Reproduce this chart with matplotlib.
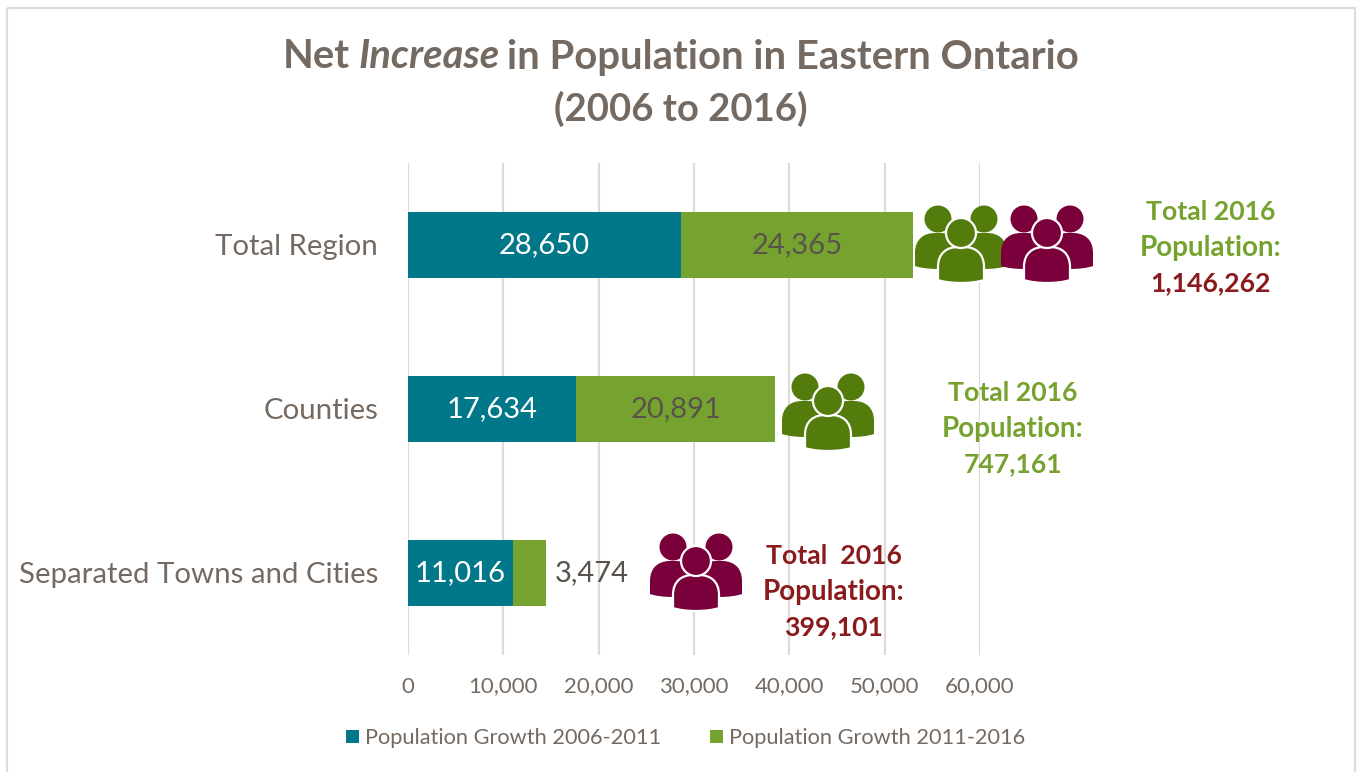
import matplotlib
matplotlib.use("Agg")
import matplotlib.pyplot as plt
from matplotlib.patches import Circle, PathPatch, Rectangle
from matplotlib.path import Path
from matplotlib.transforms import Affine2D, ScaledTranslation

plt.rcParams['font.family'] = ['Lato', 'DejaVu Sans']

# ---------- data ----------
categories = ["Total Region", "Counties", "Separated Towns and Cities"]
growth_2006_2011 = [28650, 17634, 11016]
growth_2011_2016 = [24365, 20891, 3474]
x_ticks = [0, 10000, 20000, 30000, 40000, 50000, 60000]
series_names = ["Population Growth 2006-2011", "Population Growth 2011-2016"]

TEAL = "#00788a"
LEAF = "#76a22f"
GREY = "#756a61"
DARK_LABEL = "#59534c"
ICON_GREEN = "#547c0c"
ICON_PLUM = "#7a003c"
RED_TOTAL = "#8a1a1c"

W, H = 1358, 772
fig = plt.figure(figsize=(W / 100, H / 100), dpi=100, facecolor="white")
px = Affine2D().scale(1, -1).translate(0, H)  # top-left pixel coordinates


def ftext(x, y, s, **kw):
    return fig.text(x, y, s, transform=px, **kw)


# outer chart frame, open at the bottom
fig.add_artist(Rectangle((7, 8), 1348, H + 20, transform=px, fill=False,
                         edgecolor="#e0ddd8", linewidth=1.6))

# ---------- axes ----------
ax = fig.add_axes([408 / W, 1 - 655 / H, (980 - 408) / W, (655 - 163) / H])
ypos = range(len(categories))
ax.barh(ypos, growth_2006_2011, height=0.4, color=TEAL, zorder=3)
ax.barh(ypos, growth_2011_2016, left=growth_2006_2011, height=0.4, color=LEAF, zorder=3)
ax.set_xlim(0, 60000)
ax.set_ylim(2.5, -0.5)
ax.set_yticks(list(ypos), categories, fontsize=21.2, color=GREY)
ax.set_xticks(x_ticks, [f"{v:,}" for v in x_ticks], fontsize=16, color=GREY)
ax.tick_params(axis="y", length=0, pad=21.5)
ax.tick_params(axis="x", length=0, pad=15.5)
ax.grid(axis="x", color="#dedbd6", linewidth=1.6, zorder=0)
ax.set_axisbelow(True)
for sp in ax.spines.values():
    sp.set_visible(False)
ax.patch.set_alpha(0)

# nudge the category names up a little
nudge = ScaledTranslation(0, 1 / 100, fig.dpi_scale_trans)
for lbl in ax.get_yticklabels():
    lbl.set_transform(lbl.get_transform() + nudge)

# value labels
for i, (a, b) in enumerate(zip(growth_2006_2011, growth_2011_2016)):
    ax.text(a / 2, i, f"{a:,}", ha="center", va="center", fontsize=21, color="white", zorder=4)
    if b > 5000:
        ax.text(a + b / 2, i, f"{b:,}", ha="center", va="center", fontsize=21,
                color=DARK_LABEL, zorder=4)
    else:
        ax.annotate(f"{b:,}", (a + b, i), xytext=(6, 0), textcoords="offset points",
                    ha="left", va="center", fontsize=21, color=DARK_LABEL, zorder=4)


# ---------- title, regular and italic runs set side by side ----------
def title_line(y, runs, cx, size):
    items = [ftext(0, y, s, fontsize=size, fontweight="bold", fontstyle=st, color=GREY,
                   ha="left", va="center") for s, st in runs]
    r = fig.canvas.get_renderer()
    widths = [t.get_window_extent(r).width for t in items]
    space = 8
    x = cx - (sum(widths) + space * (len(items) - 1)) / 2
    for t, w in zip(items, widths):
        t.set_x(x)
        x += w + space


title_line(57, [("Net", "normal"), ("Increase", "italic"),
                ("in Population in Eastern Ontario", "normal")], 681, 28.8)
title_line(109, [("(2006 to 2016)", "normal")], 681, 27.5)


# ---------- people icons ----------
def body(cx, top, bottom, half):
    # domed shoulders on top, slightly bowed bottom edge
    verts = [(cx - half, bottom - 3),
             (cx - half, top + 20),
             (cx - half, top + 6), (cx - half + 9, top), (cx - half + 20, top),
             (cx + half - 20, top),
             (cx + half - 9, top), (cx + half, top + 6), (cx + half, top + 20),
             (cx + half, bottom - 3),
             (cx + half * 0.5, bottom + 1), (cx - half * 0.5, bottom + 1), (cx - half, bottom - 3),
             (cx - half, bottom - 3)]
    codes = [Path.MOVETO, Path.LINETO, Path.CURVE4, Path.CURVE4, Path.CURVE4, Path.LINETO,
             Path.CURVE4, Path.CURVE4, Path.CURVE4, Path.LINETO,
             Path.CURVE4, Path.CURVE4, Path.CURVE4, Path.CLOSEPOLY]
    return Path(verts, codes)


def people(cx, cy, color):
    # cx, cy is the centre of the front head
    for dx in (-23, 23):
        fig.add_artist(PathPatch(body(cx + dx, cy, cy + 36, 23), transform=px,
                                 facecolor=color, edgecolor="none", zorder=5))
        fig.add_artist(Circle((cx + dx, cy - 14), 13.5, transform=px,
                              facecolor=color, edgecolor="none", zorder=5))
    fig.add_artist(PathPatch(body(cx, cy + 14, cy + 50, 23), transform=px, facecolor=color,
                             edgecolor="white", linewidth=1.6, zorder=6))
    fig.add_artist(Circle((cx, cy), 15, transform=px, facecolor=color,
                          edgecolor="white", linewidth=1.6, zorder=6))


people(961, 233, ICON_GREEN)
people(1047, 233, ICON_PLUM)
people(828, 401, ICON_GREEN)
people(696, 561, ICON_PLUM)


# ---------- totals ----------
def total(cx, y, first, value, c1, c2):
    ftext(cx, y, first, fontsize=19.2, fontweight="bold", color=c1, ha="center", va="center")
    ftext(cx, y + 36, "Population:", fontsize=20, fontweight="bold", color=c1, ha="center", va="center")
    ftext(cx, y + 71, value, fontsize=19.2, fontweight="bold", color=c2, ha="center", va="center")


total(1211, 212, "Total 2016", "1,146,262", LEAF, RED_TOTAL)
total(1013, 393, "Total 2016", "747,161", LEAF, LEAF)
total(834, 556, "Total  2016", "399,101", RED_TOTAL, RED_TOTAL)

# ---------- legend ----------
for x0, color, name in zip((346, 710), (TEAL, LEAF), series_names):
    fig.add_artist(Rectangle((x0, 730), 13, 13, transform=px, facecolor=color, edgecolor="none"))
    ftext(x0 + 19, 738, name, fontsize=15.7, color=GREY, ha="left", va="center")

fig.savefig("out.png", dpi=100)
